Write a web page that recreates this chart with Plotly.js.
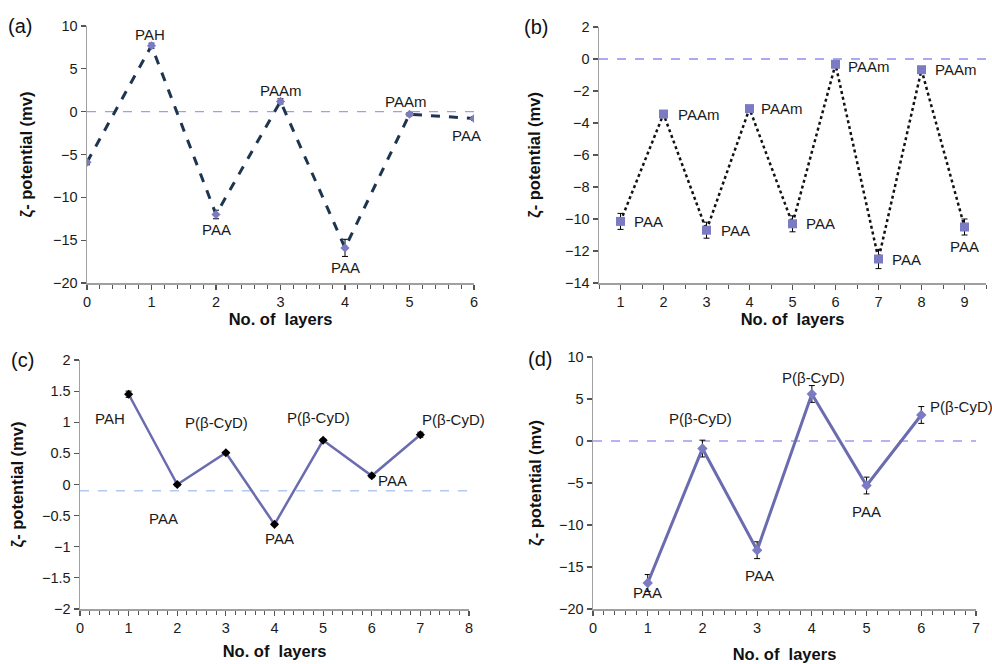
<!DOCTYPE html>
<html>
<head>
<meta charset="utf-8">
<script src="https://cdn.plot.ly/plotly-3.0.1.min.js"></script>
<style>html,body{margin:0;padding:0;background:#fff;}#chart{width:992px;height:664px;}</style>
</head>
<body>
<div id="chart"></div>
<script>
// ---- Data ----
const layersA = [0, 1, 2, 3, 4, 5, 6];
const zetaA   = [-5.9, 7.7, -12.0, 1.2, -15.9, -0.3, -0.8];
const errA    = [0.3, 0.3, 0.5, 0.3, 1.0, 0.2, 0.2];
const labelsA = ["", "PAH", "PAA", "PAAm", "PAA", "PAAm", "PAA"];

const layersB = [1, 2, 3, 4, 5, 6, 7, 8, 9];
const zetaB   = [-10.15, -3.44, -10.7, -3.1, -10.3, -0.33, -12.5, -0.67, -10.5];
const errB    = [0.5, 0.1, 0.5, 0.1, 0.5, 0.1, 0.6, 0.1, 0.5];
const labelsB = ["PAA", "PAAm", "PAA", "PAAm", "PAA", "PAAm", "PAA", "PAAm", "PAA"];

const layersC = [1, 2, 3, 4, 5, 6, 7];
const zetaC   = [1.45, 0.0, 0.51, -0.64, 0.71, 0.14, 0.80];
const errC    = [0.05, 0.02, 0.02, 0.02, 0.02, 0.03, 0.04];
const labelsC = ["PAH", "PAA", "P(β-CyD)", "PAA", "P(β-CyD)", "PAA", "P(β-CyD)"];

const layersD = [1, 2, 3, 4, 5, 6];
const zetaD   = [-16.9, -0.9, -13.0, 5.6, -5.3, 3.1];
const errD    = [1.0, 1.0, 1.0, 1.0, 1.0, 1.0];
const labelsD = ["PAA", "P(β-CyD)", "PAA", "P(β-CyD)", "PAA", "P(β-CyD)"];

const refLevels = [0, 0, -0.1, 0];
const panelTags = ["(a)", "(b)", "(c)", "(d)"];
const xTitle = "No. of  layers";
const yTitle = "ζ- potential (mv)";

// ---- Label placement (pixel shifts: [dx, dy, anchor]) ----
const shiftA = [null, [-2, 11, "center"], [0, -15, "center"], [0, 11, "center"], [0, -20, "center"], [-4, 13, "center"], [-8, -17, "center"]];
const shiftB = [[11, 0, "left"], [12, 0, "left"], [12, 0, "left"], [9, 0, "left"], [11, 0, "left"], [10, -2, "left"], [11, -1, "left"], [11, 0, "left"], [0, -20, "center"]];
const shiftC = [[-19, -24, "center"], [-14, -34, "center"], [-9, 30, "center"], [5, -14, "center"], [-5, 23, "center"], [21, -5, "center"], [33, 15, "center"]];
const shiftD = [[0, -10, "center"], [-2, 30, "center"], [2, -25, "center"], [2, 16, "center"], [0, -26, "center"], [7, 8, "left"]];

const W = 992, H = 664;
const dom = (a, b) => [a / W, b / W];
const ydom = (top, bottom) => [1 - bottom / H, 1 - top / H];

const txtColor = "#1a1a1a";
const lineBlue = "#6b6bb0";
const markPurple = "#7b7bc4";

const traces = [
  { x: layersA, y: zetaA, xaxis: "x", yaxis: "y", mode: "lines+markers", type: "scatter",
    line: { color: "#1e3550", width: 3, dash: "dash" },
    marker: { symbol: "diamond", size: 7, color: markPurple },
    error_y: { type: "data", array: errA, color: "#000", thickness: 1, width: 3 } },
  { x: layersB, y: zetaB, xaxis: "x2", yaxis: "y2", mode: "lines+markers", type: "scatter",
    line: { color: "#111", width: 2.5, dash: "dot" },
    marker: { symbol: "square", size: 9, color: markPurple },
    error_y: { type: "data", array: errB, color: "#000", thickness: 1, width: 3 } },
  { x: layersC, y: zetaC, xaxis: "x3", yaxis: "y3", mode: "lines+markers", type: "scatter",
    line: { color: lineBlue, width: 2.5 },
    marker: { symbol: "diamond", size: 7, color: "#000" },
    error_y: { type: "data", array: errC, color: "#000", thickness: 1, width: 3 } },
  { x: layersD, y: zetaD, xaxis: "x4", yaxis: "y4", mode: "lines+markers", type: "scatter",
    line: { color: lineBlue, width: 3 },
    marker: { symbol: "diamond", size: 8, color: markPurple },
    error_y: { type: "data", array: errD, color: "#000", thickness: 1, width: 3 } }
];

const fam = "Arial, Liberation Sans, sans-serif";
const tickFont = { family: fam, size: 14.5, color: txtColor };
const titleFontX = { family: fam, size: 16.5, color: "#111", weight: "bold" };
const titleFontY = { family: fam, size: 16.5, color: "#111", weight: "bold" };

function xAxis(domain, range, dtick, anchor, minorD, minorT0, standoff) {
  return {
    domain: domain, range: range, anchor: anchor, dtick: dtick, tick0: 0,
    showgrid: false, zeroline: false, showline: true, linecolor: "#a0a0a0", linewidth: 1.5,
    ticks: "outside", ticklen: 5, tickwidth: 1.2, tickcolor: "#555",
    minor: { dtick: minorD, tick0: minorT0, ticks: "outside", ticklen: 4, tickcolor: "#555", tickwidth: 1, showgrid: false },
    tickfont: tickFont, fixedrange: true,
    title: { text: xTitle, font: titleFontX, standoff: standoff }
  };
}
function yAxis(domain, range, dtick, anchor, standoff) {
  return {
    domain: domain, range: range, anchor: anchor, dtick: dtick,
    showgrid: false, zeroline: false, showline: true, linecolor: "#a0a0a0", linewidth: 1.5,
    ticks: "outside", ticklen: 5, tickwidth: 1.2, tickcolor: "#555",
    tickfont: tickFont, fixedrange: true,
    title: { text: yTitle, font: titleFontY, standoff: standoff }
  };
}

const layout = {
  width: W, height: H, margin: { l: 0, r: 0, t: 0, b: 0 },
  paper_bgcolor: "#fff", plot_bgcolor: "#fff", showlegend: false,
  xaxis:  xAxis(dom(87, 474), [0, 6], 1, "y", 0.2, 0, 3),
  yaxis:  yAxis(ydom(26, 283), [-20, 10], 5, "x", 16),
  xaxis2: Object.assign(xAxis(dom(599, 986), [0.5, 9.5], 1, "y2", 0.5, 0.5, 3), { tick0: 1 }),
  yaxis2: yAxis(ydom(27, 283), [-14, 2], 2, "x2", 20),
  xaxis3: xAxis(dom(80, 469), [0, 8], 1, "y3", 0.2, 0, 10),
  yaxis3: yAxis(ydom(360, 609), [-2, 2], 0.5, "x3", 14),
  xaxis4: xAxis(dom(593, 976), [0, 7], 1, "y4", 0.2, 0, 13),
  yaxis4: yAxis(ydom(357, 609), [-20, 10], 5, "x4", 13),
  shapes: [], annotations: []
};

// reference dashed lines
const axPairs = [["x", "y", "#9c9cf2"], ["x2", "y2", "#8f8ff0"], ["x3", "y3", "#b4c8f0"], ["x4", "y4", "#9c9cf2"]];
axPairs.forEach((p, i) => {
  layout.shapes.push({ type: "line", xref: p[0] + " domain", yref: p[1], x0: 0, x1: 1,
    y0: refLevels[i], y1: refLevels[i], line: { color: p[2], width: 1.3, dash: "dash" }, layer: "below" });
});

// point labels
const labelFont = { family: fam, size: 15, color: txtColor };
function addLabels(xs, ys, labels, shifts, xr, yr) {
  xs.forEach((xv, i) => {
    if (!labels[i]) return;
    const s = shifts[i];
    layout.annotations.push({ x: xv, y: ys[i], xref: xr, yref: yr, text: labels[i], showarrow: false,
      xanchor: s[2], yanchor: "middle", xshift: s[0], yshift: s[1], font: labelFont });
  });
}
addLabels(layersA, zetaA, labelsA, shiftA, "x", "y");
addLabels(layersB, zetaB, labelsB, shiftB, "x2", "y2");
addLabels(layersC, zetaC, labelsC, shiftC, "x3", "y3");
addLabels(layersD, zetaD, labelsD, shiftD, "x4", "y4");

// panel tags
const tagPos = [[20, 26], [536, 27], [22, 360], [540, 359]];
panelTags.forEach((t, i) => {
  layout.annotations.push({ xref: "paper", yref: "paper", x: tagPos[i][0] / W, y: 1 - tagPos[i][1] / H,
    text: t, showarrow: false, xanchor: "center", yanchor: "middle",
    font: { family: fam, size: 20, color: "#111" } });
});

Plotly.newPlot("chart", traces, layout, { staticPlot: true, displayModeBar: false });
</script>
</body>
</html>
